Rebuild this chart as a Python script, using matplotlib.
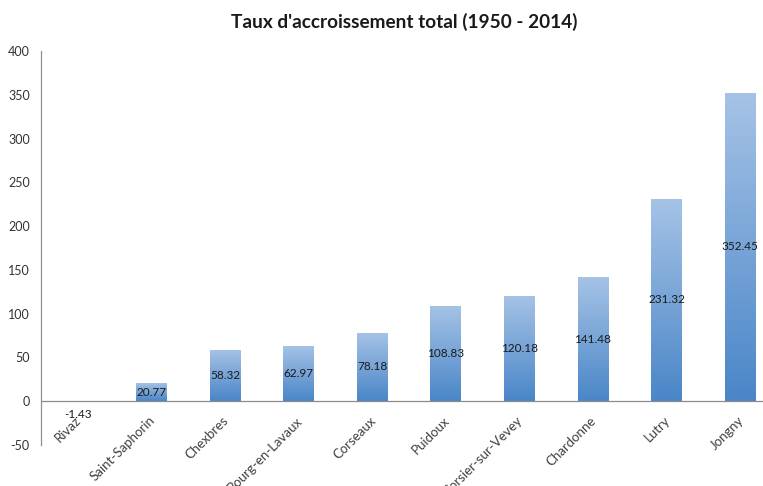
import numpy as np
import matplotlib.pyplot as plt
from matplotlib.colors import LinearSegmentedColormap

communes = ["Rivaz", "Saint-Saphorin", "Chexbres", "Bourg-en-Lavaux", "Corseaux",
            "Puidoux", "Corsier-sur-Vevey", "Chardonne", "Lutry", "Jongny"]
taux = [-1.43, 20.77, 58.32, 62.97, 78.18, 108.83, 120.18, 141.48, 231.32, 352.45]
y_ticks = [-50, 0, 50, 100, 150, 200, 250, 300, 350, 400]

plt.rcParams['font.family'] = ['Lato', 'DejaVu Sans']

fig = plt.figure(figsize=(7.63, 4.86), dpi=100)
ax = fig.add_axes([0.0537, 0.0844, 0.9646, 0.8107])

# dégradé vertical : clair en haut, foncé en bas
cmap = LinearSegmentedColormap.from_list("bleu", ["#4a86c8", "#a6c3e6"])
grad = np.linspace(0, 1, 256).reshape(-1, 1)

width = 0.42
bars = ax.bar(range(len(communes)), taux, width=width, color="none", edgecolor="none")
for b, v in zip(bars, taux):
    if v < 0:
        # barre négative : trop fine pour un dégradé
        b.set_facecolor("#b3cceb")
        b.set_zorder(2)
        continue
    x0 = b.get_x()
    im = ax.imshow(grad, cmap=cmap, aspect="auto", origin="lower",
                   extent=[x0, x0 + width, 0, v], zorder=2, vmin=0, vmax=1)
    im.set_clip_path(b)

for i, v in enumerate(taux):
    y = v / 2 if v > 0 else -15
    ax.text(i, y, f"{v:.2f}", ha="center", va="center", fontsize=8.5,
            color="#1a1a1a", zorder=4)

ax.set_xlim(-0.5, len(communes) - 0.5)
ax.set_ylim(-50, 400)
ax.set_yticks(y_ticks)
ax.set_yticklabels([str(t) for t in y_ticks], fontsize=9, color="#333333")
ax.tick_params(axis="y", length=0, pad=8)
ax.tick_params(axis="x", length=0)
ax.set_xticks(range(len(communes)))
ax.set_xticklabels([])

for i, name in enumerate(communes):
    ax.annotate(name, xy=(i, 0), xycoords="data",
                xytext=(1, -12.5), textcoords="offset points",
                rotation=45, ha="right", va="center", rotation_mode="anchor",
                fontsize=9.5, color="#404040", annotation_clip=False)

ax.axhline(0, color="#8c8c8c", lw=0.9, zorder=3)
for s in ["top", "right", "bottom"]:
    ax.spines[s].set_visible(False)
ax.spines["left"].set_color("#9a8a8a")
ax.spines["left"].set_linewidth(0.9)

fig.text(0.53, 0.955, "Taux d'accroissement total (1950 - 2014)", ha="center", va="center",
         fontsize=13.7, fontweight="bold", color="#1a1a1a")

fig.savefig("out.png", dpi=100)
